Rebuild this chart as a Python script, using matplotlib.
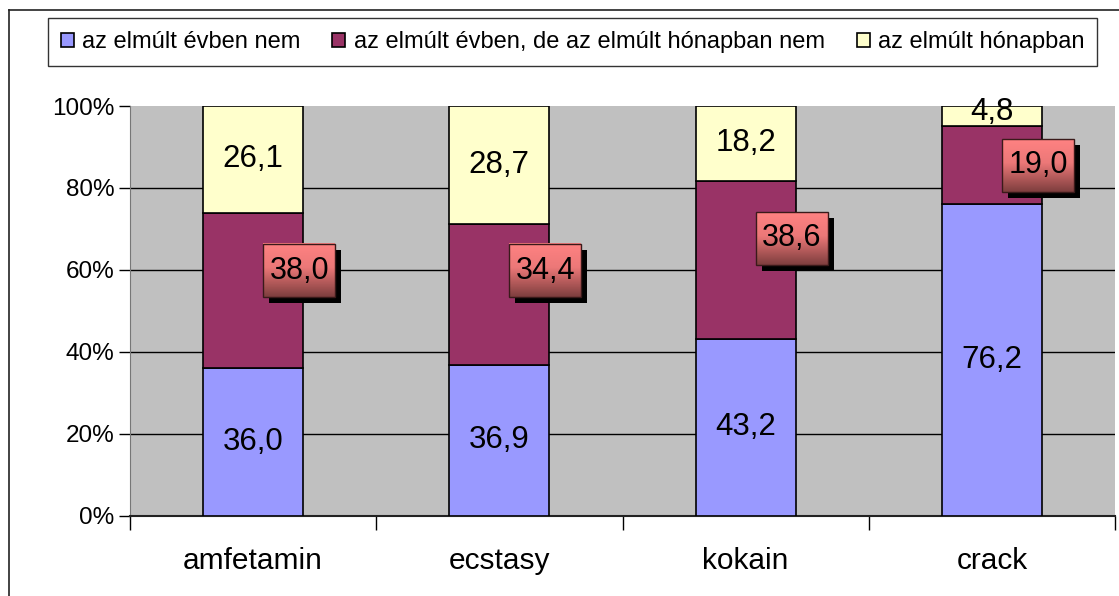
import matplotlib

matplotlib.use("Agg")

import matplotlib.pyplot as plt  # noqa: E402
import numpy as np  # noqa: E402
from matplotlib.colors import LinearSegmentedColormap  # noqa: E402
from matplotlib.lines import Line2D  # noqa: E402
from matplotlib.patches import Rectangle  # noqa: E402

plt.rcParams["font.family"] = ["Liberation Sans", "DejaVu Sans"]

categories = ["amfetamin", "ecstasy", "kokain", "crack"]
series_names = [
    "az elmúlt évben nem",
    "az elmúlt évben, de az elmúlt hónapban nem",
    "az elmúlt hónapban",
]
not_last_year = [36.0, 36.9, 43.2, 76.2]
last_year_not_month = [38.0, 34.4, 38.6, 19.0]
last_month = [26.1, 28.7, 18.2, 4.8]
y_ticks = [0, 20, 40, 60, 80, 100]

# where the red callouts sit (percent on the y axis)
callout_y = [59.8, 59.8, 67.8, 85.6]

BLUE = "#9999FF"
PURPLE = "#993366"
YELLOW = "#FFFFCC"
BG = "#C0C0C0"

W, H = 1119, 596
fig = plt.figure(figsize=(W / 100, H / 100), dpi=100)

# outer chart frame (left + top visible)
fig.add_artist(Line2D([9 / W, 9 / W], [0, 1 - 10 / H], transform=fig.transFigure,
                      color="#222222", lw=1.2))
fig.add_artist(Line2D([9 / W, 1], [1 - 10 / H, 1 - 10 / H], transform=fig.transFigure,
                      color="#222222", lw=1.2))

ax = fig.add_axes([130 / W, (H - 516) / H, 985 / W, 410 / H])
ax.set_facecolor(BG)
ax.set_xlim(-0.5, 3.5)
ax.set_ylim(0, 100)

x = np.arange(len(categories))
bw = 100 / 246
bottoms = np.zeros(len(categories))
colors = [BLUE, PURPLE, YELLOW]
for vals, col, name in zip([not_last_year, last_year_not_month, last_month], colors, series_names):
    ax.bar(x, vals, bw, bottom=bottoms, color=col, edgecolor="black", linewidth=1.2,
           label=name, zorder=3)
    bottoms += np.array(vals)

for yv in y_ticks[1:-1]:
    ax.axhline(yv, color="black", lw=1.0, zorder=1)

ax.set_yticks(y_ticks)
ax.set_yticklabels([f"{v}%" for v in y_ticks], fontsize=17.5)
ax.tick_params(axis="y", direction="out", length=8, width=1, pad=3)
ax.set_xticks(x)
ax.set_xticklabels(categories, fontsize=21.5)
ax.tick_params(axis="x", length=0, pad=22)
ax.set_xticks(np.arange(-0.5, 4.0, 1.0), minor=True)
ax.tick_params(axis="x", which="minor", direction="out", length=10, width=1)
for s in ["top", "right"]:
    ax.spines[s].set_visible(False)
ax.spines["left"].set_color("#777777")
ax.spines["bottom"].set_color("#222222")
ax.spines["bottom"].set_linewidth(1.5)

# labels in the blue and yellow segments
for i in range(len(categories)):
    ax.text(x[i], not_last_year[i] / 2, f"{not_last_year[i]:.1f}".replace(".", ","),
            ha="center", va="center", fontsize=22.5, zorder=5)
    top_mid = not_last_year[i] + last_year_not_month[i] + last_month[i] / 2
    if last_month[i] < 8:
        top_mid = 98.6
    ax.text(x[i], top_mid, f"{last_month[i]:.1f}".replace(".", ","),
            ha="center", va="center", fontsize=22.5, zorder=5)

# red gradient callouts for the middle segment
cmap = LinearSegmentedColormap.from_list(
    "redgrad", [(0.0, "#FF8282"), (0.45, "#EC7878"), (1.0, "#7E3E3E")])
grad = np.linspace(0, 1, 100).reshape(-1, 1)
inv = ax.transData.inverted()
bw_px, bh_px, sh_px = 72, 53, 6
for i in range(len(categories)):
    cx_px, cy_px = ax.transData.transform((x[i] + 46 / 246, callout_y[i]))
    (x0, y0) = inv.transform((cx_px - bw_px / 2, cy_px - bh_px / 2))
    (x1, y1) = inv.transform((cx_px + bw_px / 2, cy_px + bh_px / 2))
    (sx0, sy0) = inv.transform((cx_px - bw_px / 2 + sh_px, cy_px - bh_px / 2 - sh_px))
    ax.add_patch(Rectangle((sx0, sy0), x1 - x0, y1 - y0, facecolor="black",
                           edgecolor="none", zorder=6, clip_on=False))
    ax.imshow(grad, cmap=cmap, extent=(x0, x1, y0, y1), aspect="auto",
              origin="upper", zorder=7, clip_on=False)
    ax.add_patch(Rectangle((x0, y0), x1 - x0, y1 - y0, facecolor="none",
                           edgecolor="#3a1a1a", lw=1.0, zorder=8, clip_on=False))
    ax.text((x0 + x1) / 2, (y0 + y1) / 2, f"{last_year_not_month[i]:.1f}".replace(".", ","),
            ha="center", va="center", fontsize=22, zorder=9)
ax.set_xlim(-0.5, 3.5)
ax.set_ylim(0, 100)

leg = fig.legend(loc="upper left", bbox_to_anchor=(48 / W, 1 - 18 / H), ncol=3,
                 fontsize=17, frameon=True, fancybox=False, edgecolor="black",
                 handlelength=0.55, handleheight=0.55, handletextpad=0.35,
                 columnspacing=1.35, borderpad=0.55, borderaxespad=0)
leg.get_frame().set_linewidth(1.0)

fig.savefig("out.png", dpi=100)
